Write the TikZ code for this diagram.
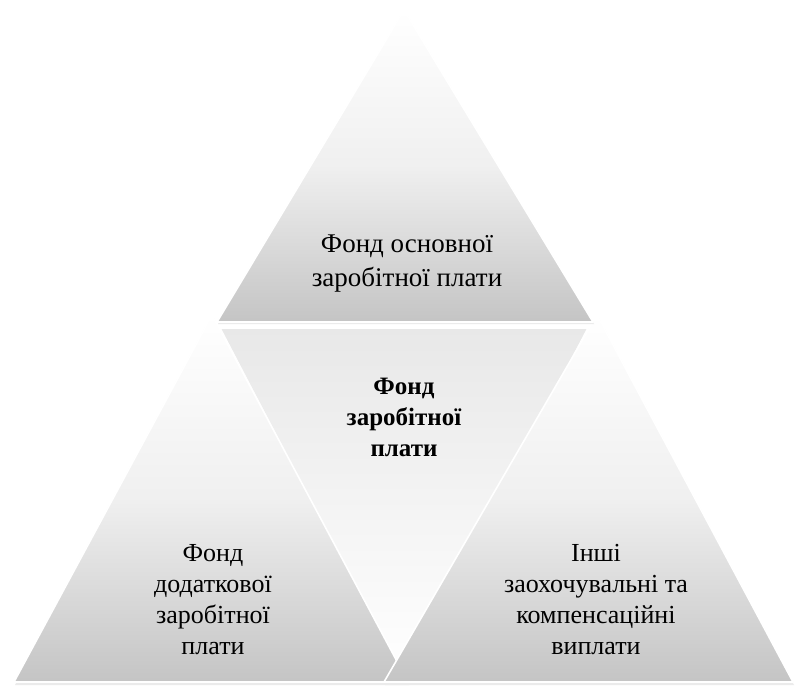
\documentclass[tikz,border=0pt]{standalone}
\usepackage{fontspec}
\setmainfont{Liberation Serif}
\begin{document}
\begin{tikzpicture}[x=1pt,y=-1pt,
  tri/.style={top color=white, bottom color=black!23, middle color=black!6, draw=white, line width=1.6pt, line join=round},
  invtri/.style={top color=black!9, bottom color=white, draw=white, line width=1.6pt, line join=round},
  shadowtri/.style={fill=black!8, draw=none},
  lbl/.style={align=center, font=\fontsize{26}{31}\selectfont, text=black},
  toplbl/.style={align=center, font=\fontsize{27}{34}\selectfont, text=black},
  midlbl/.style={align=center, font=\fontsize{25}{31}\selectfont\bfseries, text=black}]
\useasboundingbox (0,0) rectangle (806,691);
\fill[white] (0,0) rectangle (806,691);
% middle inverted triangle
\fill[shadowtri] (221,330) -- (589,330) -- (405,683) -- cycle;
\shade[invtri] (220,328) -- (588,328) -- (404,681) -- cycle;
% bottom-left triangle
\fill[shadowtri] (213,317) -- (409,685) -- (15,685) -- cycle;
\shade[tri] (212,315) -- (408,682) -- (14,682) -- cycle;
% bottom-right triangle
\fill[shadowtri] (598,317) -- (794,685) -- (385,685) -- cycle;
\shade[tri] (597,315) -- (793,682) -- (384,682) -- cycle;
% top triangle
\fill[shadowtri] (405,12) -- (594,324) -- (218,324) -- cycle;
\shade[tri] (404,10) -- (593,322) -- (217,322) -- cycle;
% labels
\node[toplbl] (top) at (407,264) {Фонд основної\\заробітної плати};
\node[midlbl] (mid) at (404,417) {Фонд\\заробітної\\плати};
\node[lbl] (left) at (213,600) {Фонд\\додаткової\\заробітної\\плати};
\node[lbl] (right) at (596,600) {Інші\\заохочувальні та\\компенсаційні\\виплати};
\end{tikzpicture}
\end{document}
